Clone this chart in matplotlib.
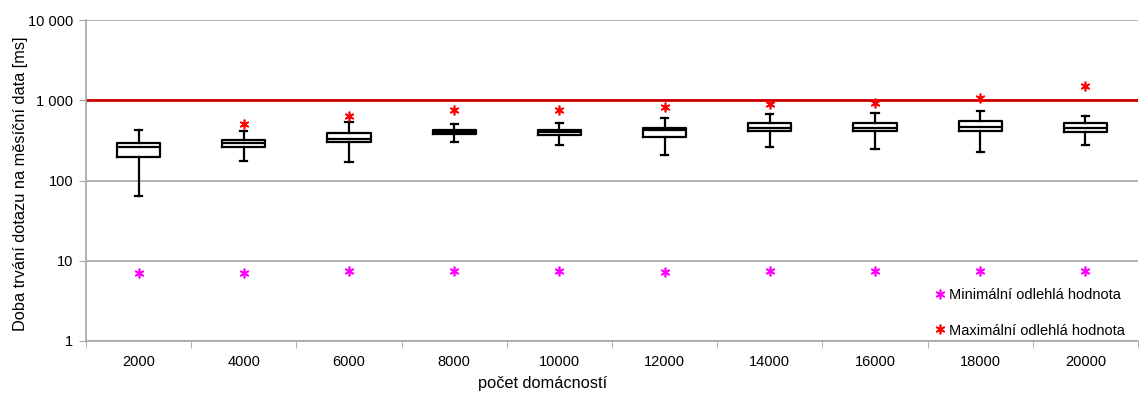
import numpy as np
import matplotlib
matplotlib.use("Agg")
import matplotlib.pyplot as plt
from matplotlib.ticker import FixedLocator, NullLocator

plt.rcParams['font.family'] = ['Liberation Sans', 'DejaVu Sans']

# data
domacnosti = ["2000", "4000", "6000", "8000", "10000", "12000", "14000", "16000", "18000", "20000"]
whisk_lo = [65, 175, 169, 299, 279, 208, 259, 249, 224, 274]
q1 = [198, 261, 302, 376, 369, 351, 410, 410, 414, 398]
median = [264, 291, 332, 402, 402, 426, 447, 455, 464, 447]
q3 = [291, 323, 394, 426, 430, 447, 516, 526, 547, 516]
whisk_hi = [426, 414, 531, 501, 520, 596, 668, 688, 735, 637]
min_outlier = [7.0, 7.1, 7.5, 7.4, 7.45, 7.2, 7.45, 7.45, 7.45, 7.45]
max_outlier = [None, 506, 637, 750, 750, 817, 890, 916, 1057, 1518]
limit = 1000

fig = plt.figure(figsize=(11.39, 3.94), dpi=100)
ax = fig.add_axes([86 / 1139, 53 / 394, 1052 / 1139, 321 / 394])

pos = np.arange(1, len(domacnosti) + 1)
stats = []
for i in range(len(domacnosti)):
    stats.append({"whislo": whisk_lo[i], "q1": q1[i], "med": median[i],
                  "q3": q3[i], "whishi": whisk_hi[i], "fliers": []})

ax.bxp(stats, positions=pos, widths=0.41, showfliers=False, zorder=3,
       boxprops=dict(color="black", linewidth=1.6),
       medianprops=dict(color="black", linewidth=1.6),
       whiskerprops=dict(color="black", linewidth=1.6),
       capprops=dict(color="black", linewidth=1.6), capwidths=0.07)

# limitni cara 1000 ms
ax.axhline(limit, color="#cc0000", linewidth=2, zorder=2)

star = (6, 2, 0)
ax.plot(pos, min_outlier, linestyle="none", marker=star, color="#ff00ff",
        markersize=7, markeredgewidth=1.2, zorder=4, label="Minimální odlehlá hodnota")
mx_pos = [p for p, v in zip(pos, max_outlier) if v is not None]
mx_val = [v for v in max_outlier if v is not None]
ax.plot(mx_pos, mx_val, linestyle="none", marker=star, color="#ff0000",
        markersize=7, markeredgewidth=1.2, zorder=4, label="Maximální odlehlá hodnota")

ax.set_yscale("log")
ax.set_ylim(1, 10000)
ax.set_xlim(0.5, len(domacnosti) + 0.5)
ax.yaxis.set_major_locator(FixedLocator([1, 10, 100, 1000, 10000]))
ax.yaxis.set_minor_locator(NullLocator())
ax.set_yticklabels(["1", "10", "100", "1 000", "10 000"])
ax.yaxis.grid(True, color="#a6a6a6", linewidth=1.2)
ax.set_axisbelow(True)

ax.set_xticks(pos)
ax.set_xticklabels(domacnosti)
ax.xaxis.set_minor_locator(FixedLocator(np.arange(0.5, len(domacnosti) + 1, 1)))
ax.tick_params(axis="x", which="major", length=0, pad=10, labelsize=10.5)
ax.tick_params(axis="x", which="minor", length=5, color="#a6a6a6", direction="out")
ax.tick_params(axis="y", length=5, color="#a6a6a6", labelsize=10.5, pad=4)

for s in ["top", "right"]:
    ax.spines[s].set_visible(False)
for s in ["left", "bottom"]:
    ax.spines[s].set_color("#a6a6a6")
    ax.spines[s].set_linewidth(1.2)

ax.set_xlabel("počet domácností", fontsize=11.8)
ax.xaxis.set_label_coords(0.434, -0.11)
ax.set_ylabel("Doba trvání dotazu na měsíční data [ms]", fontsize=11.8)
ax.yaxis.set_label_coords(-0.055, 0.49)

ax.legend(loc="lower right", frameon=False, fontsize=10.5, handletextpad=0.1,
          handlelength=1.0, labelspacing=1.5, bbox_to_anchor=(1.0, -0.03))

fig.savefig("out.png", dpi=100)
